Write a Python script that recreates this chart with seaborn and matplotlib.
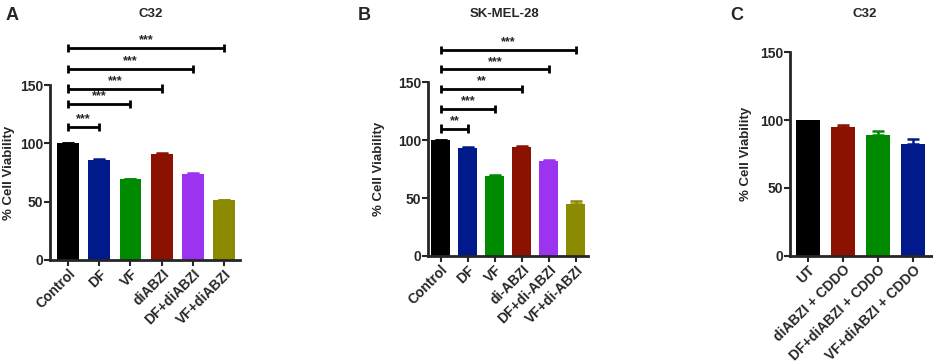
import matplotlib
matplotlib.use("Agg")
import numpy as np
import matplotlib.pyplot as plt
import seaborn as sns

# panel A - C32
a_groups = ["Control", "DF", "VF", "diABZI", "DF+diABZI", "VF+diABZI"]
a_means = [100, 86, 69, 91, 74, 51]
a_err = [0.3, 0.8, 0.8, 0.8, 0.7, 0.5]
a_sig_heights = [114, 134, 147, 164, 182]
a_sig_labels = ["***", "***", "***", "***", "***"]

# panel B - SK-MEL-28
b_groups = ["Control", "DF", "VF", "di-ABZI", "DF+di-ABZI", "VF+di-ABZI"]
b_means = [100, 93, 69, 94, 82, 45]
b_err = [0.5, 0.8, 0.7, 0.6, 0.5, 2.0]
b_sig_heights = [110, 127, 144, 161, 178]
b_sig_labels = ["**", "***", "**", "***", "***"]

# panel C - C32 with CDDO
c_groups = ["UT", "diABZI + CDDO", "DF+diABZI + CDDO", "VF+diABZI + CDDO"]
c_means = [100, 95, 89, 82.5]
c_err = [0.0, 1.3, 3.0, 3.5]

six_colors = ["#000000", "#001a8c", "#008a00", "#8b1200", "#9b33f0", "#8c8a00"]
four_colors = ["#000000", "#8b1200", "#008a00", "#001a8c"]

sns.set_style("ticks")
plt.rcParams["font.family"] = ["Liberation Sans", "DejaVu Sans"]
plt.rcParams["font.weight"] = "bold"


def draw_panel(ax, groups, means, errs, colors, xlim, label_x):
    sns.barplot(x=groups, y=means, hue=groups, palette=colors, legend=False,
                width=0.7, saturation=1, errorbar=None, ax=ax, linewidth=0)
    for i, (m, e, c) in enumerate(zip(means, errs, colors)):
        if e > 0:
            ax.errorbar(i, m, yerr=[[0], [e]], fmt="none", ecolor=c,
                        elinewidth=1.8, capsize=4.5, capthick=1.8)
    ax.set_ylim(0, 150)
    ax.set_xlim(*xlim)
    ax.set_yticks([0, 50, 100, 150])
    ax.set_ylabel("% Cell Viability", fontsize=9.5, fontweight="bold")
    ax.yaxis.set_label_coords(label_x, 0.5)
    ax.tick_params(axis="y", labelsize=10, width=1.5, length=4, pad=1)
    ax.tick_params(axis="x", labelsize=10, width=1.5, length=4, pad=1)
    plt.setp(ax.get_yticklabels(), fontweight="bold")
    plt.setp(ax.get_xticklabels(), fontweight="bold", rotation=45,
             ha="right", rotation_mode="anchor")
    sns.despine(ax=ax)
    for s in ["left", "bottom"]:
        ax.spines[s].set_linewidth(2)


def draw_brackets(ax, heights, labels):
    for j, (h, lab) in enumerate(zip(heights, labels)):
        x0, x1 = 0, j + 1
        ax.plot([x0, x1], [h, h], color="black", lw=2, clip_on=False,
                solid_capstyle="butt")
        for xx in (x0, x1):
            ax.plot([xx, xx], [h - 3.5, h + 3.5], color="black", lw=2,
                    clip_on=False, solid_capstyle="butt")
        ax.text((x0 + x1) / 2, h + 1.5, lab, ha="center", va="bottom",
                fontsize=9, fontweight="bold", clip_on=False)


fig = plt.figure(figsize=(9.33, 3.62), dpi=100)
ax_a = fig.add_axes([0.0536, 0.282, 0.2036, 0.483])
ax_b = fig.add_axes([0.4587, 0.293, 0.1715, 0.48])
ax_c = fig.add_axes([0.8467, 0.293, 0.1533, 0.563])

draw_panel(ax_a, a_groups, a_means, a_err, six_colors, (-0.58, 5.51), -0.184)
draw_brackets(ax_a, a_sig_heights, a_sig_labels)
draw_panel(ax_b, b_groups, b_means, b_err, six_colors, (-0.48, 5.45), -0.269)
draw_brackets(ax_b, b_sig_heights, b_sig_labels)
draw_panel(ax_c, c_groups, c_means, c_err, four_colors, (-0.51, 3.57), -0.266)

for x, letter in [(0.006, "A"), (0.383, "B"), (0.783, "C")]:
    fig.text(x, 0.958, letter, fontsize=13, fontweight="bold", va="center")
for x, title in [(0.161, "C32"), (0.541, "SK-MEL-28"), (0.927, "C32")]:
    fig.text(x, 0.962, title, fontsize=9.5, fontweight="bold",
             ha="center", va="center")

fig.savefig("out.png", dpi=100)
